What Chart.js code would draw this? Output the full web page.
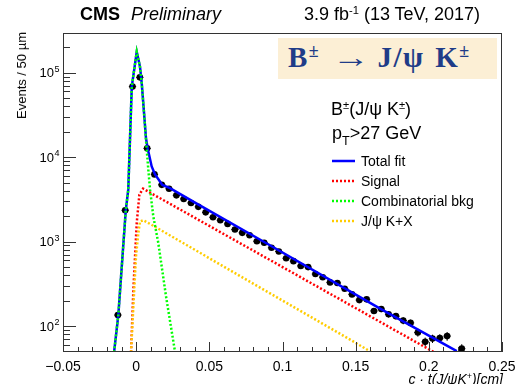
<!DOCTYPE html>
<html>
<head>
<meta charset="utf-8">
<script src="https://cdn.jsdelivr.net/npm/chart.js@4.4.0/dist/chart.umd.min.js"></script>
<style>
  html, body { margin: 0; padding: 0; background: #fff; }
  #wrap { position: relative; width: 515px; height: 384px; overflow: hidden;
          font-family: "Liberation Sans", Arial, Helvetica, sans-serif; color: #000; }
  #plot { position: absolute; left: 0; top: 0; }
  .t { position: absolute; white-space: nowrap; }
  .sup { font-size: 0.62em; position: relative; top: -0.55em; }
  .box { position: absolute; left: 278px; top: 38px; width: 219px; height: 41px; background: #fcefd5; }
  .boxtxt { position: absolute; left: 288px; top: 39px; font: bold 29px/36px "Liberation Serif", "DejaVu Serif", serif;
            letter-spacing: 1.5px; word-spacing: 2px; color: #1f3c88; white-space: nowrap; }
  .arrow { display: inline-block; margin-left: 12px; margin-right: 4px; transform: scaleX(1.3); transform-origin: left center; }
  .ytitle { position: absolute; left: 15px; top: 32px; font-size: 13px; line-height: 13px;
            writing-mode: vertical-rl; transform: rotate(180deg); white-space: nowrap; }
</style>
</head>
<body>
<div id="wrap">
  <canvas id="plot" width="515" height="384"></canvas>

  <div class="t" style="left:80px; top:5px; font:bold 18px/18px 'Liberation Sans', Arial, sans-serif;">CMS</div>
  <div class="t" style="left:131px; top:5px; font:italic 18px/18px 'Liberation Sans', Arial, sans-serif;">Preliminary</div>
  <div class="t" style="right:35px; top:5px; font:18px/18px 'Liberation Sans', Arial, sans-serif;">3.9 fb<span class="sup">-1</span> (13 TeV, 2017)</div>

  <div class="box"></div>
  <div class="boxtxt">B<span class="sup">±</span><span class="arrow">→</span> J/ψ K<span class="sup">±</span></div>

  <div class="t" style="left:331px; top:100px; font-size:18px; line-height:18px;">B<span class="sup">±</span>(J/ψ K<span class="sup">±</span>)</div>
  <div class="t" style="left:332px; top:124px; font-size:18px; line-height:18px;">p<span style="font-size:0.7em; position:relative; top:0.45em;">T</span>&gt;27 GeV</div>

  <div class="t" style="left:361px; top:154px; font-size:14px; line-height:14px;">Total fit</div>
  <div class="t" style="left:361px; top:174px; font-size:14px; line-height:14px;">Signal</div>
  <div class="t" style="left:361px; top:194px; font-size:14px; line-height:14px;">Combinatorial bkg</div>
  <div class="t" style="left:361px; top:214px; font-size:14px; line-height:14px;">J/ψ K+X</div>

  <div class="ytitle">Events / 50 µm</div>
  <div class="t" style="right:12px; top:372px; font:italic 14px/14px 'Liberation Sans', Arial, sans-serif;">c · t(J/ψK<span class="sup">+</span>)[cm]</div>
</div>

<script>
// binned data (bin width 50 um = 0.005 cm)
const binCenters = [-0.0125, -0.0075, -0.0025, 0.0025, 0.0075, 0.0125, 0.0175, 0.0225, 0.0275, 0.0325,
  0.0375, 0.0425, 0.0475, 0.0525, 0.0575, 0.0625, 0.0675, 0.0725, 0.0775, 0.0825,
  0.0875, 0.0925, 0.0975, 0.1025, 0.1075, 0.1125, 0.1175, 0.1225, 0.1275, 0.1325,
  0.1375, 0.1425, 0.1475, 0.1525, 0.1575, 0.1625, 0.1675, 0.1725, 0.1775, 0.1825,
  0.1875, 0.1925, 0.1975, 0.2025, 0.2075, 0.2125, 0.2225];
const events = [135, 2350, 68400, 88000, 12700, 6250, 4700, 4220, 3530, 3200,
  2870, 2580, 2220, 1940, 1790, 1620, 1390, 1270, 1190, 1010,
  968, 845, 764, 635, 587, 515, 499, 413, 379, 329,
  324, 277, 237, 203, 207, 151, 159, 138, 131, 116,
  109, 84, 65, 71, 72, 76, 54];
const eventErrors = [12, 48, 262, 297, 113, 79, 69, 65, 59, 57,
  54, 51, 47, 44, 42, 40, 37, 36, 34, 32,
  31, 29, 28, 25, 24, 23, 22, 20, 19, 18,
  18, 17, 15, 14, 14, 12, 13, 12, 11, 11,
  10, 9, 8, 8, 8, 9, 7];
const binHalfWidth = 0.0025;

// fit curves
const totalFitX = [-0.0151, -0.0122, -0.0071, -0.0054, -0.0030, 0.0004, 0.0026, 0.0038, 0.0054, 0.0067,
  0.0079, 0.0106, 0.0129, 0.0179, 0.0231, 0.0432, 0.0881, 0.1667, 0.2191];
const totalFitY = [49, 135, 2350, 4120, 68400, 177000, 118000, 75000, 33000, 16800,
  12600, 7760, 6250, 4690, 4295, 2700, 976, 161, 50.5];

const signalX = [-0.0035, -0.0019, 0.0004, 0.0022, 0.0047, 0.0095, 0.2036];
const signalY = [49, 272, 1680, 3600, 4240, 3800, 49];

const combBkgX = [-0.0151, -0.0122, -0.0071, -0.0054, -0.0030, 0.0004, 0.0026, 0.0038, 0.0054, 0.0067,
  0.0083, 0.0095, 0.0117, 0.0151, 0.0204, 0.0266];
const combBkgY = [49, 135, 2350, 4120, 68400, 177000, 118000, 75000, 33000, 16000,
  7100, 4120, 1995, 968, 225, 49];

const jpsiKXX = [-0.0035, -0.0013, -0.0001, 0.0015, 0.0026, 0.0049, 0.0095, 0.161];
const jpsiKXY = [49, 272, 673, 1270, 1730, 1790, 1620, 49];

// axes
const xMin = -0.05, xMax = 0.25;
const yMin = 49.3, yMax = 2.95e5;
const xTickValues = [-0.05, 0, 0.05, 0.1, 0.15, 0.2, 0.25];
const xTickLabels = ['\u22120.05', '0', '0.05', '0.1', '0.15', '0.2', '0.25'];
const xMinorStep = 0.01;
const yTickExponents = [2, 3, 4, 5];

function pts(xs, ys) {
  return xs.map((x, i) => ({ x: x, y: ys[i] }));
}

function curve(xs, ys, color, dashed, order) {
  return {
    data: pts(xs, ys),
    showLine: true,
    borderColor: color,
    borderWidth: 2.5,
    borderDash: dashed ? [2, 2] : [],
    pointRadius: 0,
    tension: 0,
    clip: 0,
    order: order
  };
}

const errorBars = {
  id: 'errorBars',
  beforeDatasetsDraw(chart) {
    const { ctx, chartArea: a, scales: { x, y } } = chart;
    ctx.save();
    ctx.beginPath();
    ctx.rect(a.left, a.top, a.right - a.left, a.bottom - a.top);
    ctx.clip();
    ctx.strokeStyle = '#000';
    ctx.lineWidth = 1;
    binCenters.forEach((c, i) => {
      const px = x.getPixelForValue(c);
      const py = y.getPixelForValue(events[i]);
      const x0 = x.getPixelForValue(c - binHalfWidth), x1 = x.getPixelForValue(c + binHalfWidth);
      const y0 = y.getPixelForValue(events[i] + eventErrors[i]);
      const y1 = y.getPixelForValue(Math.max(events[i] - eventErrors[i], 1));
      ctx.beginPath();
      ctx.moveTo(x0, py); ctx.lineTo(x1, py);
      ctx.moveTo(px, y0); ctx.lineTo(px, y1);
      ctx.stroke();
    });
    ctx.restore();
  }
};

const rootAxes = {
  id: 'rootAxes',
  afterDraw(chart) {
    const { ctx, chartArea: a, scales: { x, y } } = chart;
    ctx.save();
    ctx.strokeStyle = '#333';
    ctx.lineWidth = 1;
    ctx.strokeRect(a.left + 0.5, a.top + 0.5, a.right - a.left - 1, a.bottom - a.top - 1);

    // x ticks
    ctx.beginPath();
    const nMinor = Math.round((xMax - xMin) / xMinorStep);
    for (let i = 0; i <= nMinor; i++) {
      const v = xMin + i * xMinorStep;
      const px = Math.round(x.getPixelForValue(v)) + 0.5;
      const len = (i % 5 === 0) ? 10 : 5;
      ctx.moveTo(px, a.bottom);
      ctx.lineTo(px, a.bottom - len);
    }
    // y ticks (log)
    for (let e = 1; e <= 5; e++) {
      for (let m = 1; m <= 9; m++) {
        const v = m * Math.pow(10, e);
        if (v < yMin || v > yMax) continue;
        const py = Math.round(y.getPixelForValue(v)) + 0.5;
        const len = (m === 1) ? 13 : 7;
        ctx.moveTo(a.left, py);
        ctx.lineTo(a.left + len, py);
      }
    }
    ctx.stroke();

    // tick labels
    ctx.fillStyle = '#000';
    ctx.font = '14px "Liberation Sans", Arial, sans-serif';
    ctx.textAlign = 'center';
    ctx.textBaseline = 'alphabetic';
    xTickValues.forEach((v, i) => {
      ctx.fillText(xTickLabels[i], x.getPixelForValue(v), 370.5);
    });
    yTickExponents.forEach(e => {
      const py = y.getPixelForValue(Math.pow(10, e));
      ctx.font = '13px "Liberation Sans", Arial, sans-serif';
      ctx.textAlign = 'right';
      ctx.fillText('10', 54, py + 4.5);
      ctx.font = '9px "Liberation Sans", Arial, sans-serif';
      ctx.textAlign = 'left';
      ctx.fillText(String(e), 54.5, py - 1);
    });

    // legend line samples
    const samples = [
      { y: 161, color: '#0000ff', dash: [] },
      { y: 181, color: '#ff0000', dash: [2, 2] },
      { y: 201, color: '#00ff00', dash: [2, 2] },
      { y: 221, color: '#ffcc00', dash: [2, 2] }
    ];
    samples.forEach(s => {
      ctx.beginPath();
      ctx.strokeStyle = s.color;
      ctx.lineWidth = 2.5;
      ctx.setLineDash(s.dash);
      ctx.moveTo(332, s.y);
      ctx.lineTo(355, s.y);
      ctx.stroke();
    });
    ctx.restore();
  }
};

new Chart(document.getElementById('plot'), {
  type: 'scatter',
  data: {
    datasets: [
      {
        data: pts(binCenters, events),
        pointRadius: 3.3,
        pointBackgroundColor: '#000',
        pointBorderWidth: 0,
        showLine: false,
        clip: 0,
        order: 5
      },
      curve(totalFitX, totalFitY, '#0000ff', false, 4),
      curve(signalX, signalY, '#ff0000', true, 3),
      curve(jpsiKXX, jpsiKXY, '#ffcc00', true, 2),
      curve(combBkgX, combBkgY, '#00ff00', true, 1)
    ]
  },
  options: {
    responsive: false,
    animation: false,
    devicePixelRatio: 1,
    layout: { padding: { left: 63, right: 13, top: 33, bottom: 32 } },
    plugins: { legend: { display: false }, tooltip: { enabled: false } },
    scales: {
      x: { type: 'linear', min: xMin, max: xMax, display: false },
      y: { type: 'logarithmic', min: yMin, max: yMax, display: false }
    }
  },
  plugins: [errorBars, rootAxes]
});
</script>
</body>
</html>
